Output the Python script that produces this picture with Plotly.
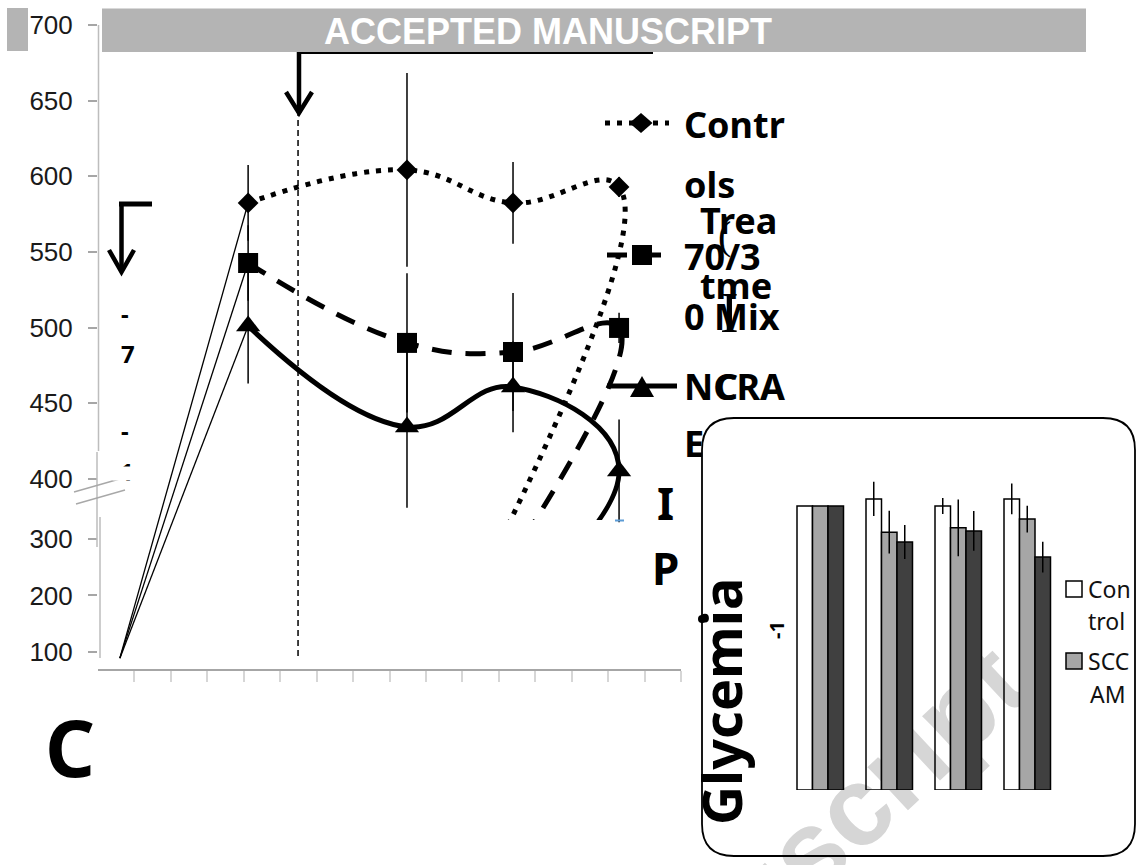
import plotly.graph_objects as go

W, H = 1140, 865

# ---------------- main chart data ----------------
x_pos = [4.12, 8.48, 11.39, 14.30]          # sampling times (axis units)
x_start = 0.60
start_val = 89                               # basal glycemia (lower scale)
controls = [582.4, 604.2, 582.4, 593.0]
controls_err = [25, 64, 27, 6.6]
mix = [542.7, 489.9, 483.9, 499.8]
mix_err = [25, 46, 39, 10]
ncrae = [501.1, 434.4, 460.8, 405.3]
ncrae_err = [38, 53.5, 30, 34]
# continuation of the smoothed lines (hidden below the axis break)
controls_tail = [6.5, 150]
mix_tail = [5.7, 150]
ncrae_tail = [1.5, 150]
treat_x = 5.49
y_tick_values = [100, 200, 300, 400, 450, 500, 550, 600, 650, 700]

# ---------------- inset data ----------------
inset_cats = ["0", "1", "2", "3"]
inset_control = [100, 102.5, 100, 102.5]
inset_control_err = [0, 6.0, 2.8, 5.4]
inset_sccam = [100, 90.8, 92.3, 95.4]
inset_sccam_err = [0, 7.5, 10.0, 4.7]
inset_ncrae = [100, 87.3, 91.2, 82.0]
inset_ncrae_err = [0, 6.0, 7.0, 5.4]

Y_BOTTOM, Y_TOP = 274.4, 700          # full axis range (display units)
UPPER_BOTTOM_PX = 520                 # bottom of the upper (400-700) segment


def low(v):
    """broken axis: values below the break are compressed"""
    if v >= 400:
        return v
    return 360.35 - (300 - v) * 0.3734


def px(x):
    return x / W


def py(y):
    return 1 - y / H


fig = go.Figure()

series = [
    (controls, controls_err, controls_tail, "diamond", 16, "5px,7px", "Controls"),
    (mix, mix_err, mix_tail, "square", 20, "20px,14px", "70/30 Mix"),
    (ncrae, ncrae_err, ncrae_tail, "triangle-up", 21, "solid", "NCRAE"),
]

for vals, err, tail, sym, msize, dash, name in series:
    fig.add_trace(go.Scatter(
        x=[x_start, x_pos[0]], y=[low(start_val), vals[0]], mode="lines",
        line=dict(color="black", width=1.3), showlegend=False, hoverinfo="skip"))

for vals, err, tail, sym, msize, dash, name in series:
    fig.add_trace(go.Scatter(
        x=x_pos + [tail[0]], y=vals + [tail[1]], mode="lines", yaxis="y3",
        line=dict(color="black", width=5, shape="spline", smoothing=1.2, dash=dash),
        showlegend=False, hoverinfo="skip"))

for vals, err, tail, sym, msize, dash, name in series:
    fig.add_trace(go.Scatter(
        x=x_pos, y=vals, mode="markers", name=name,
        marker=dict(symbol=sym, size=msize, color="black"),
        error_y=dict(type="data", array=err, visible=True, color="black", thickness=1.5, width=0),
        showlegend=False))

# inset bars
for vals, err, fill, name in [
    (inset_control, inset_control_err, "rgba(255,255,255,0)", "Control"),
    (inset_sccam, inset_sccam_err, "#a6a6a6", "SCCAM"),
    (inset_ncrae, inset_ncrae_err, "#404040", "NCRAE"),
]:
    fig.add_trace(go.Bar(
        x=inset_cats, y=vals, name=name, xaxis="x2", yaxis="y2",
        marker=dict(color=fill, line=dict(color="black", width=1.5)),
        error_y=dict(type="data", array=err, visible=True, color="black", thickness=1.5, width=0),
        showlegend=False))

shapes = []


def seg(x0, y0, x1, y1, color="black", width=4, dash=None, layer="above"):
    d = dict(color=color, width=width)
    if dash:
        d["dash"] = dash
    return dict(type="line", xref="paper", yref="paper", x0=px(x0), y0=py(y0),
                x1=px(x1), y1=py(y1), line=d, layer=layer)


def path(pts, close=False, fill=None, color="black", width=4, layer="above"):
    s = "M " + " L ".join(f"{px(a):.5f},{py(b):.5f}" for a, b in pts)
    if close:
        s += " Z"
    d = dict(type="path", xref="paper", yref="paper", path=s,
             line=dict(color=color, width=width), layer=layer)
    if fill:
        d["fillcolor"] = fill
    return d


# watermark (below traces)
shapes.append(dict(type="rect", xref="paper", yref="paper",
                   x0=px(777), x1=px(787), y0=py(865), y1=py(855),
                   line=dict(width=0), layer="below",
                   label=dict(text="Manuscript", textangle=-43, textposition="middle center",
                              font=dict(family="Liberation Sans, Arial", size=112,
                                        color="#d6d6d6", weight="bold"))))

# y axis segments (broken axis)
ax_col = "#bdbdbd"
shapes += [
    seg(98.5, 25, 98.5, 451, ax_col, 1.5),
    seg(97, 452, 97, 547, ax_col, 1.5),
    seg(100, 517, 100, 658, ax_col, 1.5),
    seg(74, 492, 123, 478, "#a8a8a8", 1.5),
    seg(76, 504, 125, 490, "#a8a8a8", 1.5),
]

# treatment dashed line
shapes.append(dict(type="line", xref="x", yref="paper", x0=treat_x, x1=treat_x,
                   y0=py(656), y1=py(113), line=dict(color="black", width=1.5, dash="6px,4px")))

# arrows
shapes += [
    seg(297, 51.5, 653, 51.5, "black", 5),
    seg(299, 51.5, 299, 113, "black", 4.5),
    path([(286, 92), (299, 113), (312, 92)], width=4.5),
    seg(119, 204, 152, 204, "black", 5),
    seg(121.5, 204, 121.5, 272, "black", 4.5),
    path([(109, 250), (121.5, 272), (134, 250)], width=4.5),
]

# blue tick at the bottom of the last error bar
shapes.append(seg(615, 520.5, 624, 520.5, "#5b9bd5", 2))

# legend keys
shapes += [
    seg(605, 123, 669, 123, "black", 5, dash="5px,7px"),
    path([(629.5, 123), (641, 113), (652.5, 123), (641, 133)], close=True, fill="black", width=0),
    seg(607, 255, 667, 255, "black", 5, dash="20px,14px"),
    path([(632, 245), (652, 245), (652, 265), (632, 265)], close=True, fill="black", width=0),
    seg(607, 386, 677, 386, "black", 5),
    path([(642, 376), (654, 397), (630, 397)], close=True, fill="black", width=0),
]

# inset box (rounded)
L, T, R, B, r = 702, 418, 1135, 856, 32
bx = (f"M {px(L + r):.5f},{py(T):.5f} L {px(R - r):.5f},{py(T):.5f} "
      f"Q {px(R):.5f},{py(T):.5f} {px(R):.5f},{py(T + r):.5f} "
      f"L {px(R):.5f},{py(B - r):.5f} Q {px(R):.5f},{py(B):.5f} {px(R - r):.5f},{py(B):.5f} "
      f"L {px(L + r):.5f},{py(B):.5f} Q {px(L):.5f},{py(B):.5f} {px(L):.5f},{py(B - r):.5f} "
      f"L {px(L):.5f},{py(T + r):.5f} Q {px(L):.5f},{py(T):.5f} {px(L + r):.5f},{py(T):.5f} Z")
shapes.append(dict(type="path", xref="paper", yref="paper", path=bx,
                   line=dict(color="black", width=1.8)))
shapes.append(dict(type="circle", xref="paper", yref="paper",
                   x0=px(698), x1=px(706), y0=py(623), y1=py(615),
                   fillcolor="black", line=dict(width=0)))

# inset legend squares
shapes.append(dict(type="rect", xref="paper", yref="paper", x0=px(1066), x1=px(1082),
                   y0=py(597), y1=py(581), fillcolor="white", line=dict(color="black", width=1.5)))
shapes.append(dict(type="rect", xref="paper", yref="paper", x0=px(1066), x1=px(1082),
                   y0=py(669), y1=py(653), fillcolor="#a6a6a6", line=dict(color="black", width=1.5)))

# banner
shapes.append(dict(type="rect", xref="paper", yref="paper", x0=px(102), x1=px(1086),
                   y0=py(52), y1=py(8.6), fillcolor="#b4b4b4", line=dict(width=0)))
shapes.append(dict(type="rect", xref="paper", yref="paper", x0=px(7), x1=px(28),
                   y0=py(51), y1=py(8), fillcolor="#b4b4b4", line=dict(width=0)))

annotations = []
SANS = "Noto Sans, Open Sans, sans-serif"


def txt(t, x, y, size=36, anchor="left", bold=True, family=SANS, color="black", angle=0, **kw):
    annotations.append(dict(text=t, x=px(x), y=py(y), xref="paper", yref="paper",
                            xanchor=anchor, yanchor="middle", showarrow=False, textangle=angle,
                            font=dict(family=family, size=size, color=color,
                                      weight="bold" if bold else "normal"), **kw))


txt("ACCEPTED MANUSCRIPT", 548, 31, size=36, anchor="center",
    family="Liberation Sans, Arial", color="white")

txt("Contr", 682, 124)
txt("ols", 682, 184)
txt("Trea", 698, 221)
txt("(", 716, 236, size=40, bold=False, family="Liberation Serif, serif")
txt("70/3", 682, 256)
txt("tme", 698, 286)
txt("0 Mix", 682, 316)
txt("I", 718, 313, size=56, bold=False, family="Liberation Serif, serif")
txt("NCRA", 682, 386)
txt("C", 713, 386)
txt("E", 682, 444)
txt("I", 665, 503, size=44, anchor="center")
txt("P", 665, 568, size=44, anchor="center")

txt("-", 125, 314, size=24, anchor="center")
txt("7", 128, 353, size=24, anchor="center")
txt("-", 125, 431, size=24, anchor="center")
txt("1", 127, 472, size=24, anchor="center")
annotations.append(dict(text=" ", x=px(127), y=py(474), xref="paper", yref="paper",
                        xanchor="center", yanchor="middle", showarrow=False,
                        width=26, height=11, bgcolor="white", font=dict(size=6)))

txt("C", 70, 747, size=78, anchor="center")

txt("Glycemia", 721, 702, size=54, anchor="center", angle=-90)
txt("-1", 776, 630, size=20, anchor="center", angle=-90)

txt("Con", 1086, 589, size=23, bold=False, color="#111111")
txt("trol", 1086, 621, size=23, bold=False, color="#111111")
txt("SCC", 1086, 661, size=23, bold=False, color="#111111")
txt("AM", 1088, 694, size=23, bold=False, color="#111111")

px_per_unit = (669 - 25) / (Y_TOP - Y_BOTTOM)
upper_range_bottom = Y_TOP - (UPPER_BOTTOM_PX - 25) / px_per_unit

fig.update_layout(
    width=W, height=H,
    margin=dict(l=0, r=0, t=0, b=0, pad=0, autoexpand=False),
    paper_bgcolor="white",
    plot_bgcolor="rgba(0,0,0,0)",
    barmode="group", bargap=0.326, bargroupgap=0,
    showlegend=False,
    shapes=shapes,
    annotations=annotations,
    xaxis=dict(domain=[px(98), px(681)], range=[0, 16], tickvals=list(range(1, 17)),
               showticklabels=False, ticks="outside", ticklen=11, tickwidth=1.5,
               tickcolor="#d6d6d6", showline=True, linecolor="#a6a6a6", linewidth=2,
               showgrid=False, zeroline=False, fixedrange=True, automargin=False),
    yaxis=dict(domain=[py(669), py(25)], range=[Y_BOTTOM, Y_TOP],
               tickvals=[low(v) for v in y_tick_values],
               ticktext=[str(v) for v in y_tick_values],
               ticks="outside", ticklen=9, tickwidth=1.5, tickcolor="#a6a6a6",
               ticklabelstandoff=10,
               tickfont=dict(family="Liberation Sans, Arial", size=26, color="#1a1a1a"),
               showline=False, showgrid=False, zeroline=False, fixedrange=True,
               automargin=False),
    yaxis3=dict(domain=[py(UPPER_BOTTOM_PX), py(25)], range=[upper_range_bottom, Y_TOP],
                anchor="x", visible=False, automargin=False, fixedrange=True),
    xaxis2=dict(domain=[px(785.75), px(1061.75)], anchor="y2", visible=False, automargin=False),
    yaxis2=dict(domain=[py(790), py(477.6)], range=[0, 110], anchor="x2", visible=False,
                automargin=False),
)

fig.write_html("out.html", config={"displayModeBar": False},
               post_script="document.documentElement.style.margin='0';"
                           "document.body.style.margin='0';"
                           "document.body.style.overflow='hidden';")
